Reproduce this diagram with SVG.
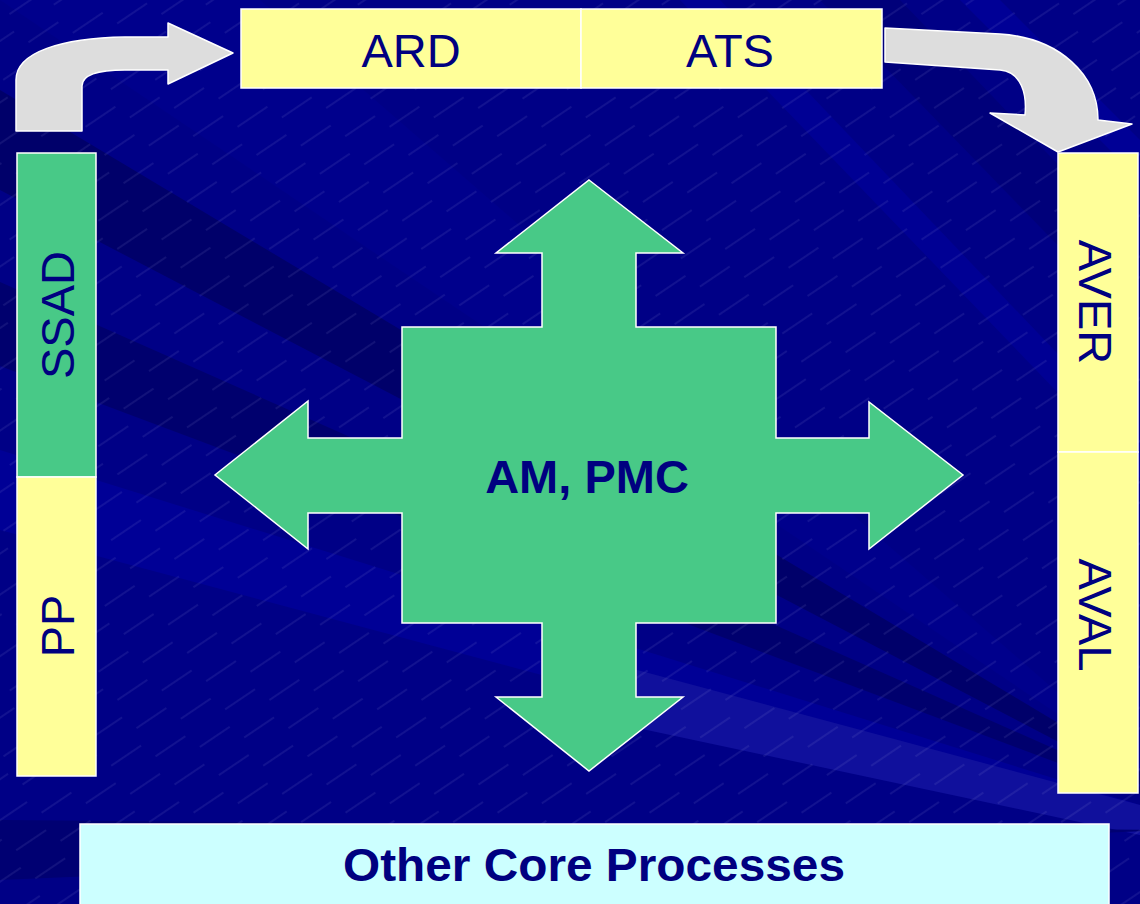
<svg xmlns="http://www.w3.org/2000/svg" width="1140" height="904" viewBox="0 0 1140 904">
<style>
.box{stroke:#ffffff;stroke-width:1.5}
.yel{fill:#ffff99}
.grn{fill:#48c987}
.cyan{fill:#ccffff}
.lbl{font-family:"Liberation Sans",Arial,sans-serif;font-size:47px;fill:#000080;text-anchor:middle}
.bold{font-weight:bold}
.conn{fill:#dddddd;stroke:#ffffff;stroke-width:1.5;stroke-linejoin:round}
.h{stroke:#a8a8e8;stroke-opacity:0.3;stroke-width:0.7}
</style>
<defs>
<pattern id="hatch" width="84" height="34" patternUnits="userSpaceOnUse" patternTransform="rotate(-34)">
<line class="h" x1="0" y1="17" x2="36" y2="17"/>
<line class="h" x1="42" y1="0" x2="78" y2="0"/>
<line class="h" x1="42" y1="34" x2="78" y2="34"/>
</pattern>
</defs>
<g id="background">
<rect x="0" y="0" width="1140" height="904" fill="#000086"/>
<polygon points="0,0 260,0 1170,790" fill="#00008c"/>
<polygon points="0,90 0,190 1170,800 1170,790" fill="#00006a"/>
<polygon points="0,282 0,366 1170,805 1170,800" fill="#00006e"/>
<polygon points="0,450 0,530 1140,835 1140,805" fill="#000096"/>
<polygon points="600,660 1140,805 1140,835 600,720" fill="#10109c"/>
<polygon points="0,820 0,880 1170,830" fill="#000072"/>
<polygon points="680,0 720,0 1140,440 1140,478" fill="#000094"/>
<polygon points="820,0 900,0 1140,250 1140,330" fill="#00007a"/>
<polygon points="960,0 1000,0 1140,140 1140,180" fill="#000096"/>
<rect x="0" y="0" width="1140" height="904" fill="url(#hatch)"/>
</g>
<g id="connectors">
<path id="arrow-pp-ard" class="conn" d="M16,131 L16,80 C16,52 62,38 125,37 L168,37 L168,23 L233,53 L168,84 L168,70 L125,70 C100,70 82,74 82,86 L82,131 Z"/>
<path id="arrow-ats-aver" class="conn" d="M885,28 L1000,34 C1060,38 1098,75 1098,120 L1132,124 L1058,152 L990,113 L1025,115 C1027,95 1022,72 1000,70 L885,62 Z"/>
</g>
<g id="node-ard">
<rect class="box yel" x="241" y="9" width="340" height="79"/>
<text class="lbl" x="411" y="67">ARD</text>
</g>
<g id="node-ats">
<rect class="box yel" x="581" y="9" width="301" height="79"/>
<text class="lbl" x="730" y="67">ATS</text>
</g>
<g id="node-ssad">
<rect class="box grn" x="17" y="153" width="79" height="324"/>
<text class="lbl" transform="translate(74,315) rotate(-90)">SSAD</text>
</g>
<g id="node-pp">
<rect class="box yel" x="17" y="477" width="79" height="299"/>
<text class="lbl" transform="translate(74,626) rotate(-90)">PP</text>
</g>
<g id="node-aver">
<rect class="box yel" x="1058" y="153" width="80" height="299"/>
<text class="lbl" transform="translate(1079,302) rotate(90)">AVER</text>
</g>
<g id="node-aval">
<rect class="box yel" x="1058" y="452" width="80" height="341"/>
<text class="lbl" transform="translate(1079,615) rotate(90)">AVAL</text>
</g>
<g id="node-am-pmc">
<polygon class="box grn" points="589,180 683,253 636,253 636,327 776,327 776,438 869,438 869,402 963,475 869,549 869,513 776,513 776,623 636,623 636,697 683,697 589,771 496,697 542,697 542,623 402,623 402,513 308,513 308,549 215,475 308,401 308,438 402,438 402,327 542,327 542,253 496,253"/>
<text class="lbl bold" x="587" y="493" font-size="48">AM, PMC</text>
</g>
<g id="node-other">
<rect class="box cyan" x="80" y="824" width="1029" height="90"/>
<text class="lbl bold" x="594" y="881" font-size="46" textLength="502" lengthAdjust="spacingAndGlyphs">Other Core Processes</text>
</g>
</svg>
